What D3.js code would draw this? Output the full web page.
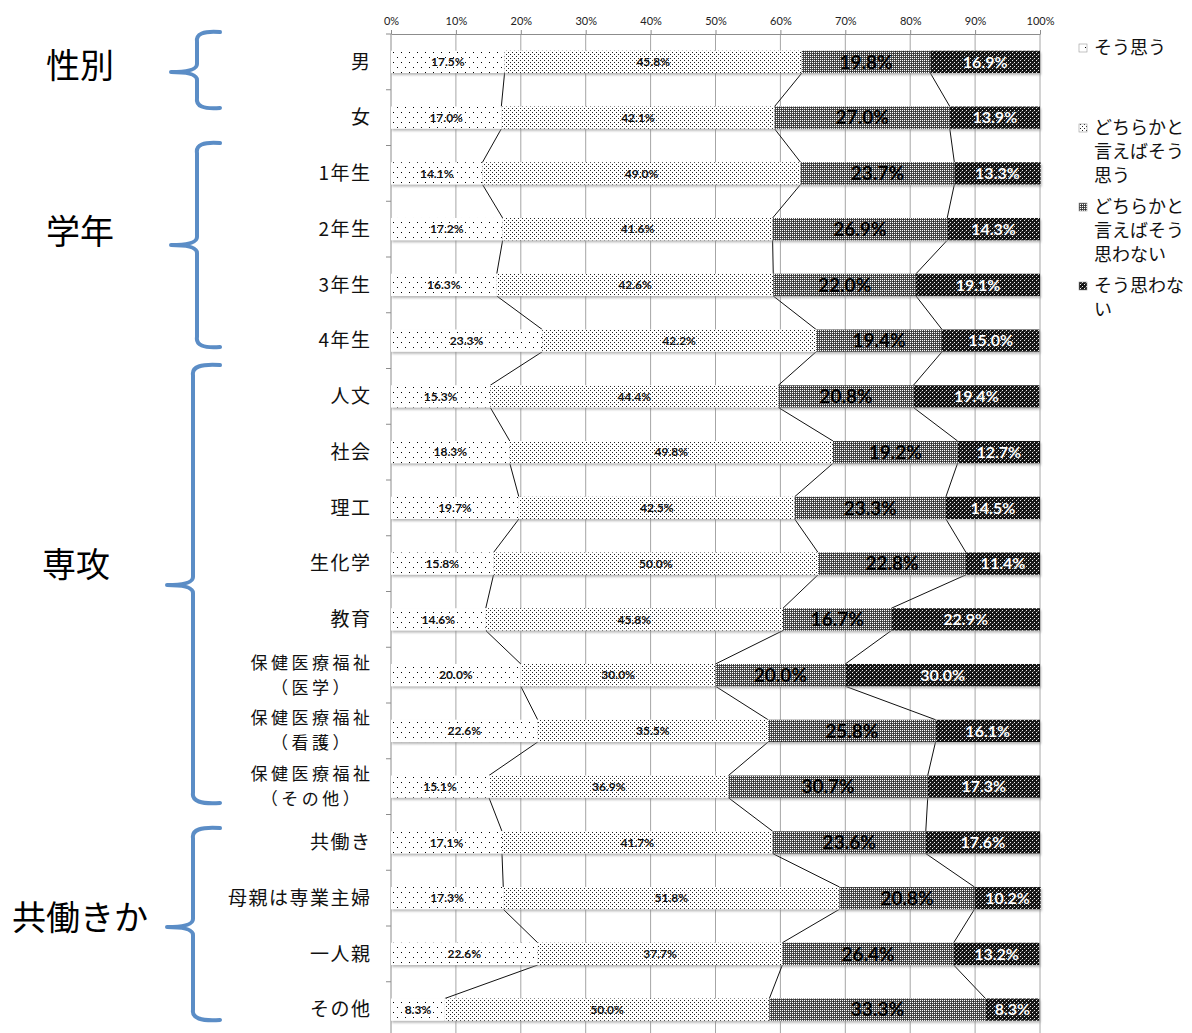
<!DOCTYPE html>
<html>
<head>
<meta charset="utf-8">
<script src="https://cdn.jsdelivr.net/npm/d3@7"></script>
<style>
  html, body { margin: 0; padding: 0; background: #fff; }
  svg { display: block; }
</style>
</head>
<body>
<svg id="chart" width="1192" height="1033"></svg>
<script>
// Row labels (each entry may hold one or two lines)
const categories = [
  ["男"], ["女"],
  ["1年生"], ["2年生"], ["3年生"], ["4年生"],
  ["人文"], ["社会"], ["理工"], ["生化学"], ["教育"],
  ["保健医療福祉", "（医学）"], ["保健医療福祉", "（看護）"], ["保健医療福祉", "（その他）"],
  ["共働き"], ["母親は専業主婦"], ["一人親"], ["その他"]
];

// Percentages for each answer
const agree            = [17.5, 17.0, 14.1, 17.2, 16.3, 23.3, 15.3, 18.3, 19.7, 15.8, 14.6, 20.0, 22.6, 15.1, 17.1, 17.3, 22.6, 8.3];
const somewhatAgree    = [45.8, 42.1, 49.0, 41.6, 42.6, 42.2, 44.4, 49.8, 42.5, 50.0, 45.8, 30.0, 35.5, 36.9, 41.7, 51.8, 37.7, 50.0];
const somewhatDisagree = [19.8, 27.0, 23.7, 26.9, 22.0, 19.4, 20.8, 19.2, 23.3, 22.8, 16.7, 20.0, 25.8, 30.7, 23.6, 20.8, 26.4, 33.3];
const disagree         = [16.9, 13.9, 13.3, 14.3, 19.1, 15.0, 19.4, 12.7, 14.5, 11.4, 22.9, 30.0, 16.1, 17.3, 17.6, 10.2, 13.2, 8.3];

const seriesNames = [
  ["そう思う"],
  ["どちらかと", "言えばそう", "思う"],
  ["どちらかと", "言えばそう", "思わない"],
  ["そう思わな", "い"]
];

// Grouping labels and the rows each bracket covers
const groupNames = ["性別", "学年", "専攻", "共働きか"];
const groupFirst = [0, 2, 6, 14];
const groupLast  = [1, 5, 13, 17];

const tickValues = [0, 10, 20, 30, 40, 50, 60, 70, 80, 90, 100];

const svg = d3.select("#chart");
const numFont = "Lato, 'Liberation Sans', sans-serif";
const jpFont = "'Noto Sans CJK JP', 'Noto Sans', sans-serif";

// ---------- fill patterns ----------
const defs = svg.append("defs");
function pattern(id, w, h, bg, dots) {
  const p = defs.append("pattern").attr("id", id)
    .attr("patternUnits", "userSpaceOnUse").attr("width", w).attr("height", h);
  p.append("rect").attr("width", w).attr("height", h).attr("fill", bg);
  dots.forEach(([x, y, c]) => p.append("rect").attr("x", x).attr("y", y)
    .attr("width", 1).attr("height", 1).attr("fill", c));
}
pattern("p0", 8, 10, "#fff", [[1, 2, "#000"], [5, 7, "#000"]]);
pattern("p1", 4, 4, "#fff", [[0, 0, "#222"], [2, 2, "#222"]]);
pattern("p2", 4, 4, "#4d4d4d", [[0, 0, "#fff"], [2, 2, "#fff"], [0, 2, "#fff"], [2, 0, "#fff"], [1, 1, "#2a2a2a"], [3, 3, "#2a2a2a"]]);
pattern("p3", 4, 4, "#141414", [[0, 0, "#eee"], [2, 2, "#eee"], [1, 3, "#555"]]);
const fills = ["url(#p0)", "url(#p1)", "url(#p2)", "url(#p3)"];

const shadow = defs.append("filter").attr("id", "shadow")
  .attr("x", "-5%").attr("y", "-30%").attr("width", "110%").attr("height", "180%");
shadow.append("feDropShadow").attr("dx", 1).attr("dy", 2).attr("stdDeviation", 1)
  .attr("flood-color", "#888").attr("flood-opacity", 0.6);

// ---------- scales ----------
const x = d3.scaleLinear().domain([0, 100]).range([391, 1040]);
const keys = categories.map((d, i) => i);
const y = d3.scaleBand().domain(keys).range([34, 1037.5]).paddingInner(0.6).paddingOuter(0.3);
const step = y.step();
const bandTop = 34;

// Stack the four series
const table = keys.map(i => ({ key: i, s0: agree[i], s1: somewhatAgree[i], s2: somewhatDisagree[i], s3: disagree[i] }));
const stack = d3.stack().keys(["s0", "s1", "s2", "s3"])(table);

// ---------- grid and axes ----------
svg.append("g").selectAll("line").data(tickValues.slice(1)).join("line")
  .attr("x1", d => x(d)).attr("x2", d => x(d))
  .attr("y1", bandTop).attr("y2", 1033)
  .attr("stroke", "#a6a6a6").attr("stroke-width", 1);

const xAxis = svg.append("g").attr("transform", `translate(0,${bandTop})`)
  .call(d3.axisTop(x).tickValues(tickValues).tickFormat(d => d + "%").tickSize(4).tickSizeOuter(0));
xAxis.select(".domain").attr("stroke", "#8c8c8c");
xAxis.selectAll(".tick line").attr("stroke", "#8c8c8c");
xAxis.selectAll(".tick text").attr("font-family", numFont).attr("font-size", 11)
  .attr("fill", "#222").attr("dy", "-0.2em");

// left axis line with band-boundary ticks
svg.append("line").attr("x1", x(0)).attr("x2", x(0)).attr("y1", bandTop).attr("y2", 1033)
  .attr("stroke", "#8c8c8c");
svg.append("g").selectAll("line").data(d3.range(0, categories.length + 1)).join("line")
  .attr("x1", x(0) - 5).attr("x2", x(0))
  .attr("y1", i => bandTop + i * step).attr("y2", i => bandTop + i * step)
  .attr("stroke", "#8c8c8c");

// ---------- series lines between neighbouring bars ----------
const bh = y.bandwidth();
const connectors = [];
for (let s = 0; s < 3; s++) {
  for (let i = 0; i < categories.length - 1; i++) {
    connectors.push({ x1: x(stack[s][i][1]), y1: y(i) + bh, x2: x(stack[s][i + 1][1]), y2: y(i + 1) });
  }
}
svg.append("g").selectAll("line").data(connectors).join("line")
  .attr("x1", d => d.x1).attr("y1", d => d.y1).attr("x2", d => d.x2).attr("y2", d => d.y2)
  .attr("stroke", "#111").attr("stroke-width", 1);

// ---------- bars ----------
const barsG = svg.append("g").attr("filter", "url(#shadow)");
stack.forEach((layer, s) => {
  barsG.append("g").selectAll("rect").data(layer).join("rect")
    .attr("x", d => x(d[0])).attr("width", d => x(d[1]) - x(d[0]))
    .attr("y", d => y(d.data.key)).attr("height", bh)
    .attr("fill", fills[s]);
});

// ---------- value labels ----------
const labelStyle = [
  { size: 12, fill: "#111", stroke: "none" },
  { size: 12, fill: "#111", stroke: "none" },
  { size: 19, fill: "#000", stroke: "none" },
  { size: 16, fill: "#fff", stroke: "#222" }
];
stack.forEach((layer, s) => {
  const st = labelStyle[s];
  svg.append("g").selectAll("text").data(layer).join("text")
    .attr("x", d => x((d[0] + d[1]) / 2))
    .attr("y", d => y(d.data.key) + bh / 2)
    .attr("dy", "0.36em")
    .attr("text-anchor", "middle")
    .attr("font-family", numFont).attr("font-size", st.size).attr("font-weight", 700)
    .attr("fill", st.fill)
    .attr("stroke", st.stroke).attr("stroke-width", st.stroke === "none" ? 0 : 0.7)
    .attr("paint-order", "stroke")
    .text(d => (d[1] - d[0]).toFixed(1) + "%");
});

// ---------- category labels ----------
const catG = svg.append("g").attr("font-family", jpFont).attr("fill", "#111");
categories.forEach((lines, i) => {
  const cy = y(i) + bh / 2;
  if (lines.length === 1) {
    const sp = 1.5;
    catG.append("text").attr("x", 370 + sp).attr("y", cy).attr("dy", "0.35em")
      .attr("font-size", 19).attr("letter-spacing", sp)
      .attr("text-anchor", "end").text(lines[0]);
  } else {
    // two-line labels: slightly smaller type, second line centred under the first
    const sp = 3.5;
    const first = catG.append("text").attr("x", 370 + sp).attr("y", cy - 12.5).attr("dy", "0.35em")
      .attr("font-size", 17).attr("letter-spacing", sp)
      .attr("text-anchor", "end").text(lines[0]);
    const w = first.node().getComputedTextLength() - sp;
    catG.append("text").attr("x", 370 - w / 2 + sp / 2).attr("y", cy + 12.5).attr("dy", "0.35em")
      .attr("font-size", 17).attr("letter-spacing", sp)
      .attr("text-anchor", "middle").text(lines[1]);
  }
});

// ---------- group brackets ----------
// Hand-placed brace extents [top, bottom, tip] and label centre heights
const braceSpan = [[32, 108, 72], [143, 347, 245], [365, 803, 585], [828, 1020, 927]];
const groupLabelY = [66, 232, 565, 918];
const braceG = svg.append("g");
groupNames.forEach((name, g) => {
  const [top, bot, mid] = braceSpan[g];
  const vx = groupFirst[g] >= 6 ? 193 : 197;
  const ex = 220, tip = vx - 26;
  const path = d3.path();
  path.moveTo(ex, top);
  path.quadraticCurveTo(vx - 2, top - 2, vx, top + 10);
  path.lineTo(vx, mid - 8);
  path.quadraticCurveTo(vx, mid, tip, mid);
  path.moveTo(tip, mid);
  path.quadraticCurveTo(vx, mid, vx, mid + 8);
  path.lineTo(vx, bot - 10);
  path.quadraticCurveTo(vx - 2, bot + 2, ex, bot);
  braceG.append("path").attr("d", path.toString())
    .attr("fill", "none").attr("stroke", "#5b8dc6").attr("stroke-width", 4)
    .attr("stroke-linecap", "round").attr("stroke-linejoin", "round");
  braceG.append("text").attr("x", g === 2 ? 76 : 80).attr("y", groupLabelY[g]).attr("dy", "0.35em")
    .attr("text-anchor", "middle").attr("font-family", jpFont).attr("font-size", 34)
    .attr("fill", "#000").text(name);
});

// ---------- legend ----------
const legendTop = [48, 128, 207, 286];
const legG = svg.append("g").attr("font-family", jpFont).attr("font-size", 18).attr("fill", "#111");
seriesNames.forEach((lines, s) => {
  legG.append("rect").attr("x", 1079).attr("y", legendTop[s] - 4).attr("width", 8).attr("height", 8)
    .attr("fill", fills[s]).attr("stroke", "#999").attr("stroke-width", 0.6);
  lines.forEach((ln, k) => {
    legG.append("text").attr("x", 1094).attr("y", legendTop[s] + k * 24).attr("dy", "0.35em").text(ln);
  });
});
</script>
</body>
</html>
